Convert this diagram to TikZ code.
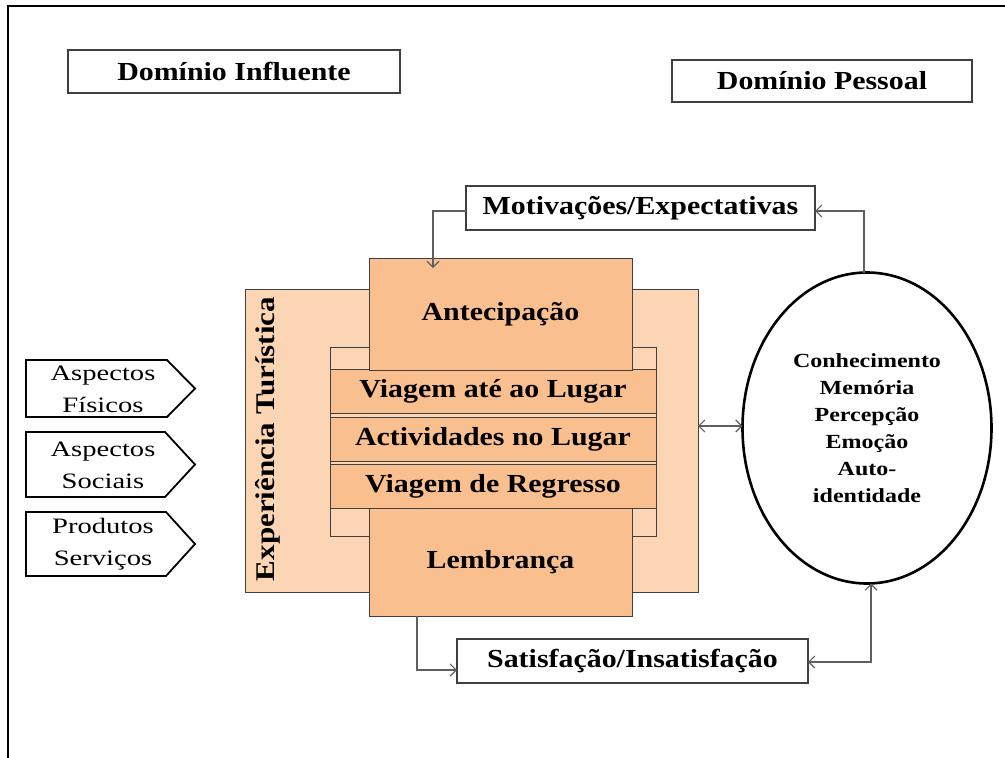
\documentclass[tikz,border=0pt]{standalone}
\usepackage{fontspec}
\setmainfont{Liberation Serif}[FakeStretch=1.15]
\newfontfamily\factorfont{Liberation Serif}[FakeStretch=1.3]
\newfontfamily\mindfont{Liberation Serif}[FakeStretch=1.2]
\usetikzlibrary{arrows.meta,shapes.geometric}
\definecolor{peachdark}{HTML}{F9BF8F}
\definecolor{peachlight}{HTML}{FCD5B5}
\definecolor{edgegray}{HTML}{404040}
\definecolor{linkgray}{HTML}{5F5F5F}
\begin{document}
\begin{tikzpicture}[x=1pt,y=-1pt,
  every node/.style={inner sep=0pt,outer sep=0pt},
  whitebox/.style={draw=edgegray,line width=1.1pt,fill=white,font=\fontsize{26}{28}\selectfont\bfseries},
  stagebox/.style={draw=edgegray,line width=1pt,fill=peachdark,font=\fontsize{26}{28}\selectfont\bfseries},
  lightbox/.style={draw=edgegray,line width=1pt,fill=peachlight},
  factorshape/.style={draw=black,line width=1.8pt,fill=white,line join=miter},
  factor/.style={align=center,font=\fontsize{22}{32}\factorfont},
  mind/.style={draw=black,line width=2.6pt,fill=white,ellipse,minimum width=249pt,minimum height=311pt,
    align=center,font=\fontsize{20}{27}\mindfont\bfseries},
  link/.style={draw=linkgray,line width=1.1pt,-{Straight Barb[length=6pt,width=12pt]}},
  biglink/.style={draw=linkgray,line width=1.1pt,{Straight Barb[length=6pt,width=12pt]}-{Straight Barb[length=6pt,width=12pt]}}
]
\useasboundingbox (0,0) rectangle (1005,758);
% outer frame (top and left edges)
\draw[line width=2.2pt] (8,758) -- (8,6) -- (1005,6);

% domain labels
\node[whitebox,minimum width=332pt,minimum height=43pt] (dinf) at (234,71.5) {Domínio Influente};
\node[whitebox,minimum width=300pt,minimum height=42pt] (dpes) at (822,81) {Domínio Pessoal};

% tourist experience block
\node[lightbox,minimum width=453pt,minimum height=303pt] (exp) at (471.5,440.5) {};
\node[font=\fontsize{27}{29}\selectfont\bfseries,rotate=90] (explabel) at (268,439) {Experiência Turística};
\node[lightbox,minimum width=326pt,minimum height=189pt] (frame) at (493,442) {};
\node[stagebox,minimum width=326pt,minimum height=44pt] (trip) at (493,391) {Viagem até ao Lugar};
\node[stagebox,minimum width=326pt,minimum height=44pt] (acts) at (493,439) {Actividades no Lugar};
\node[stagebox,minimum width=326pt,minimum height=44pt] (back) at (493,486) {Viagem de Regresso};
\node[stagebox,minimum width=263pt,minimum height=112pt] (antec) at (500.5,314) {Antecipação};
\node[stagebox,minimum width=263pt,minimum height=108pt] (lemb) at (500.5,562) {Lembrança};

% influencing factors: pentagon arrows with their labels
\draw[factorshape] (26,360) -- (167,360) -- (195,388.5) -- (167,417) -- (26,417) -- cycle;
\draw[factorshape] (26,432) -- (165,432) -- (195,464.5) -- (165,497) -- (26,497) -- cycle;
\draw[factorshape] (26,512) -- (166,512) -- (195,544) -- (166,576) -- (26,576) -- cycle;
\node[factor] (fis) at (103,389) {Aspectos\\Físicos};
\node[factor] (soc) at (103,465) {Aspectos\\Sociais};
\node[factor] (prod) at (103,544.5) {Produtos\\Serviços};

% personal domain
\node[mind] (self) at (867,428) {Conhecimento\\Memória\\Percepção\\Emoção\\Auto-\\identidade};
\node[whitebox,minimum width=349pt,minimum height=44pt] (motiv) at (640.5,208) {Motivações/Expectativas};
\node[whitebox,minimum width=351pt,minimum height=44pt] (satis) at (632.5,661) {Satisfação/Insatisfação};

% connectors
\draw[link] (motiv.west |- 0,211) -| ([xshift=-67.5pt,yshift=-10pt]antec.north);
\draw[link] (self.north -| 864,0) |- (motiv.east |- 0,211);
\draw[biglink] (exp.east |- 0,426) -- (self.west |- 0,426);
\draw[link] ([xshift=-83.5pt]lemb.south) |- (satis.west |- 0,670);
\draw[biglink] (satis.east |- 0,662) -| ([xshift=4pt]self.south);
\end{tikzpicture}
\end{document}
